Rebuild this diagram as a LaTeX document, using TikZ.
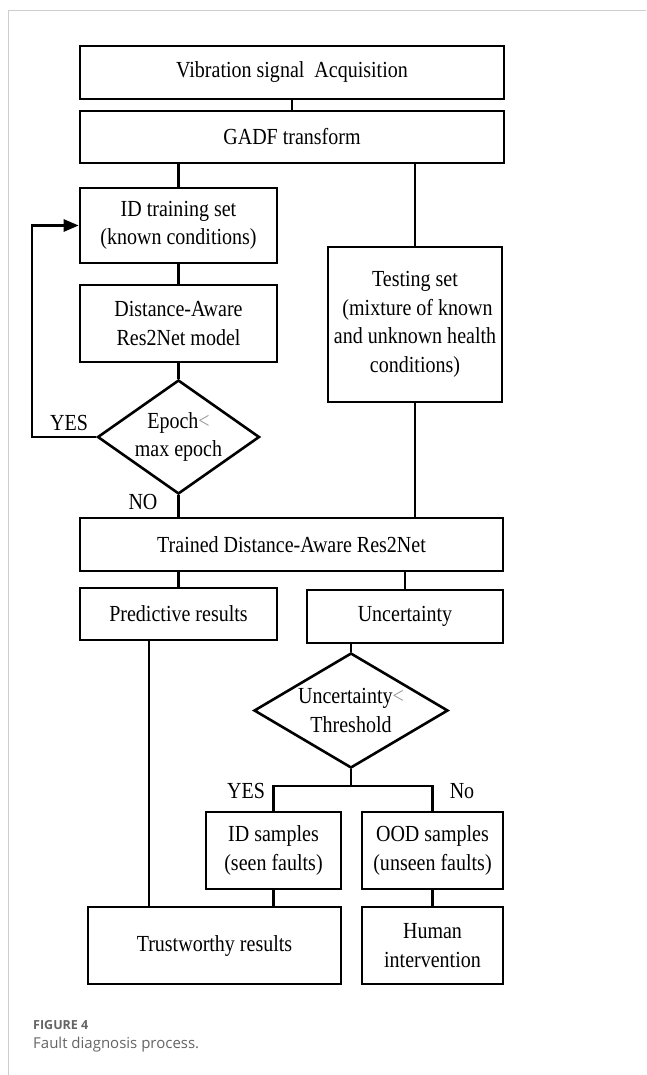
\documentclass[tikz,border=0pt]{standalone}
\usepackage{fontspec}
\setmainfont{Liberation Serif}[FakeStretch=0.87]
\newfontfamily\capfont{Open Sans}
\usetikzlibrary{shapes.geometric,arrows.meta}
\definecolor{framegray}{RGB}{205,205,205}
\definecolor{ltgray}{RGB}{150,150,150}
\definecolor{capgray}{RGB}{100,100,100}
\tikzset{
  box/.style={draw, line width=2.6pt, inner sep=0pt, align=center, font=\fontsize{23}{28.5}\selectfont},
  dia/.style={draw, diamond, line width=2.6pt, inner sep=0pt, align=center, font=\fontsize{23}{28.5}\selectfont},
  conn/.style={line width=2.6pt},
  lbl/.style={font=\fontsize{23}{24}\selectfont, inner sep=0pt},
  frame/.style={draw=framegray, line width=1pt}
}
\begin{document}
\begin{tikzpicture}[x=1pt,y=-1pt]
\useasboundingbox (0,0) rectangle (646,1075);
\draw[frame] (646,11) -- (8,11) -- (8,1075);
% nodes
\node[box, minimum width=424, minimum height=53] (vib) at (292,72.5) {Vibration signal\ \ Acquisition};
\node[box, minimum width=424, minimum height=52] (gadf) at (292,137) {GADF transform};
\node[box, minimum width=197, minimum height=75] (idt) at (178.5,225.5) {ID training set\\(known conditions)};
\node[box, minimum width=197, minimum height=77] (dist) at (178.5,323.5) {Distance-Aware\\Res2Net model};
\node[dia, minimum width=162, minimum height=114, aspect=1.42] (ep) at (178.5,437) {Epoch\textcolor{ltgray}{<}\\max epoch};
\node[box, minimum width=174, minimum height=155] (test) at (415,324.5) {Testing set\\\ (mixture of known\\and unknown health\\conditions)};
\node[box, minimum width=423, minimum height=53] (trained) at (291.5,544.5) {Trained Distance-Aware Res2Net};
\node[box, minimum width=197, minimum height=52] (pred) at (178.5,614) {Predictive results};
\node[box, minimum width=196, minimum height=53] (unc) at (405,616.5) {Uncertainty};
\node[dia, minimum width=194, minimum height=115, aspect=1.69] (ud) at (351,710.5) {Uncertainty\textcolor{ltgray}{<}\\Threshold};
\node[box, minimum width=135, minimum height=77] (ids) at (273.5,850.5) {ID samples\\(seen faults)};
\node[box, minimum width=141, minimum height=77] (ood) at (432.5,850.5) {OOD samples\\(unseen faults)};
\node[box, minimum width=253, minimum height=77] (trust) at (214.5,945.5) {Trustworthy results};
\node[box, minimum width=141, minimum height=77] (human) at (432.5,945.5) {Human\\intervention};
% labels
\node[lbl] (yes1) at (69,423) {YES};
\node[lbl] (no1) at (143,502) {NO};
\node[lbl] (yes2) at (246,791) {YES};
\node[lbl] (no2) at (462,791) {No};
% helper coordinates
\coordinate (loopx) at (32,0);
\coordinate (px) at (149,0);
\coordinate (split) at (351,786);
% connectors
\draw[conn] (vib.south) -- (gadf.north);
\draw[conn] (gadf.south -| idt.north) -- (idt.north);
\draw[conn] (gadf.south -| test.north) -- (test.north);
\draw[conn] (idt.south) -- (dist.north);
\draw[conn] (dist.south) -- (ep.north);
\draw[conn, -{Triangle[length=15pt,width=12pt]}] (ep.west) -- (ep.west -| loopx) |- (idt.west);
\draw[conn] (ep.south) -- (ep.south |- trained.north);
\draw[conn] (test.south) -- (test.south |- trained.north);
\draw[conn] (trained.south -| pred.north) -- (pred.north);
\draw[conn] (trained.south -| unc.north) -- (unc.north);
\draw[conn] (unc.south -| ud.north) -- (ud.north);
\draw[conn] (ud.south) -- (split);
\draw[conn] (ids.north) |- (split) -| (ood.north);
\draw[conn] (pred.south -| px) -- (trust.north -| px);
\draw[conn] (ids.south) -- (ids.south |- trust.north);
\draw[conn] (ood.south) -- (human.north);
% caption
\node[anchor=west, inner sep=0pt, text=capgray, font=\capfont\fontsize{12.5}{15}\selectfont\bfseries] (figlbl) at (33,1025) {FIGURE 4};
\node[anchor=west, inner sep=0pt, text=capgray, font=\capfont\fontsize{15}{18}\selectfont] (figcap) at (33,1045) {Fault diagnosis process.};
\end{tikzpicture}
\end{document}
